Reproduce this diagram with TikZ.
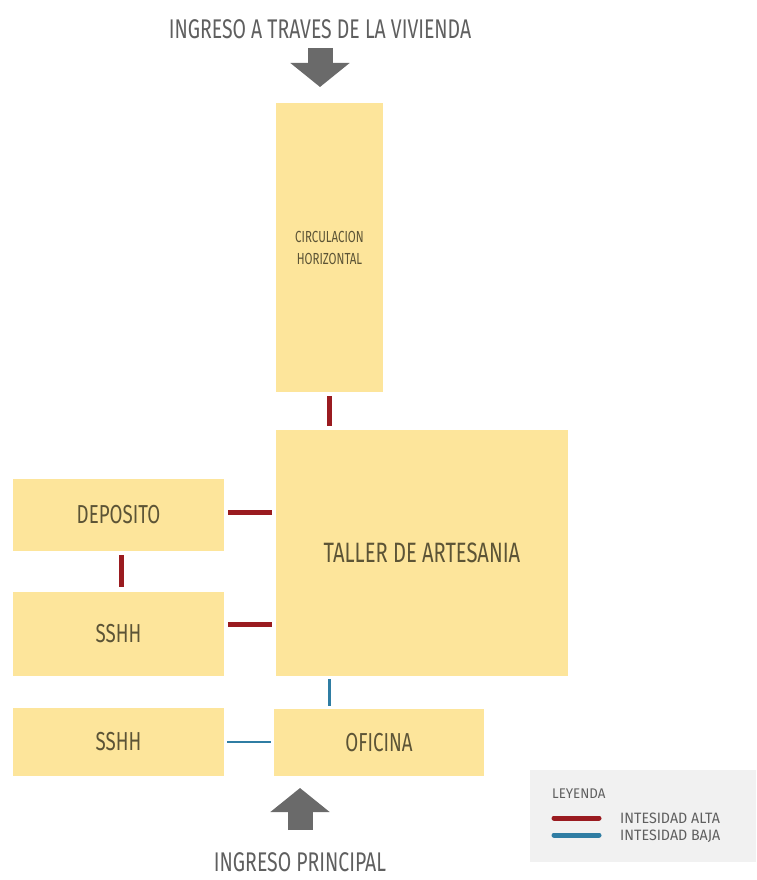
\documentclass[tikz,border=0pt]{standalone}
\usepackage{fontspec}
\setmainfont{Fira Sans}[FakeStretch=0.72]
\newfontfamily\leyfont{Fira Sans}[FakeStretch=0.95]
\usetikzlibrary{arrows.meta,positioning}

\definecolor{boxfill}{HTML}{FDE59B}
\definecolor{boxtext}{HTML}{5C5436}
\definecolor{rojoalta}{HTML}{9A1B20}
\definecolor{azulbaja}{HTML}{2F7DA3}
\definecolor{flecha}{HTML}{6A6A6A}
\definecolor{leyfill}{HTML}{F1F1F1}

\begin{document}
\begin{tikzpicture}[
  x=1pt, y=-1pt,
  zona/.style={fill=boxfill, text=boxtext, align=center, inner sep=0pt, font=\fontsize{26}{30}\selectfont},
  rotulo/.style={text=flecha!90!black, inner sep=0pt, font=\fontsize{27}{30}\selectfont},
  leyrotulo/.style={text=flecha!90!black, inner sep=0pt, anchor=west},
  alta/.style={rojoalta, line width=5pt, shorten <=4pt, shorten >=4pt},
  baja/.style={azulbaja, line width=2.5pt, shorten <=3pt, shorten >=3pt},
  ingreso/.style={flecha, line width=25pt, -{Triangle[width=58pt, length=24pt]}}
]
\useasboundingbox (0,0) rectangle (756,880);

% zonas
\node[zona, minimum width=107pt, minimum height=289pt, font=\fontsize{16}{22}\selectfont] (circ) at (329.5,247.5) {CIRCULACION\\HORIZONTAL};
\node[zona, minimum width=292pt, minimum height=246pt, font=\fontsize{28}{30}\selectfont] (taller) at (422,553) {TALLER DE ARTESANIA};
\node[zona, minimum width=211pt, minimum height=72pt] (dep) at (118.5,515) {DEPOSITO};
\node[zona, minimum width=211pt, minimum height=84pt] (sshha) at (118.5,633.5) {SSHH};
\node[zona, minimum width=211pt, minimum height=68pt] (sshhb) at (118.5,742) {SSHH};
\node[zona, minimum width=210pt, minimum height=67pt] (ofi) at (379,742.5) {OFICINA};

% ingresos
\node[rotulo] (ingviv) at (320,29) {INGRESO A TRAVES DE LA VIVIENDA};
\node[rotulo] (ingppal) at (300,862) {INGRESO PRINCIPAL};
\coordinate (viv1) at (320,48);
\coordinate (viv2) at (320,87);
\coordinate (ppal1) at (300,830);
\coordinate (ppal2) at (300,788);
\draw[ingreso] (viv1) -- (viv2);
\draw[ingreso] (ppal1) -- (ppal2);

% relaciones
\draw[alta] (circ.south) -- (circ.south |- taller.north);
\draw[alta] ([yshift=3pt]dep.east) -- ([yshift=3pt]dep.east -| taller.west);
\draw[alta] ([xshift=2.5pt]dep.south) -- ([xshift=2.5pt]sshha.north);
\draw[alta] ([yshift=9.5pt]sshha.east) -- ([yshift=9.5pt]sshha.east -| taller.west);
\draw[baja] (taller.south -| circ.south) -- (ofi.north -| circ.south);
\draw[baja] (sshhb.east) -- (sshhb.east -| ofi.west);

% leyenda
\node[fill=leyfill, minimum width=226pt, minimum height=92pt, inner sep=0pt] (ley) at (643,816) {};
\node[leyrotulo, font=\leyfont\fontsize{14}{16}\selectfont] (leyt) at (552,794) {LEYENDA};
\coordinate (la1) at (554,818);
\coordinate (la2) at (599,818);
\coordinate (lb1) at (554,835);
\coordinate (lb2) at (599,835);
\draw[alta, line width=5pt, shorten <=0pt, shorten >=0pt, line cap=round] (la1) -- (la2);
\draw[baja, line width=5pt, shorten <=0pt, shorten >=0pt, line cap=round] (lb1) -- (lb2);
\node[leyrotulo, font=\leyfont\fontsize{15}{17}\selectfont] (lat) at (620,818) {INTESIDAD ALTA};
\node[leyrotulo, font=\leyfont\fontsize{15}{17}\selectfont] (lbt) at (620,836) {INTESIDAD BAJA};
\end{tikzpicture}
\end{document}
